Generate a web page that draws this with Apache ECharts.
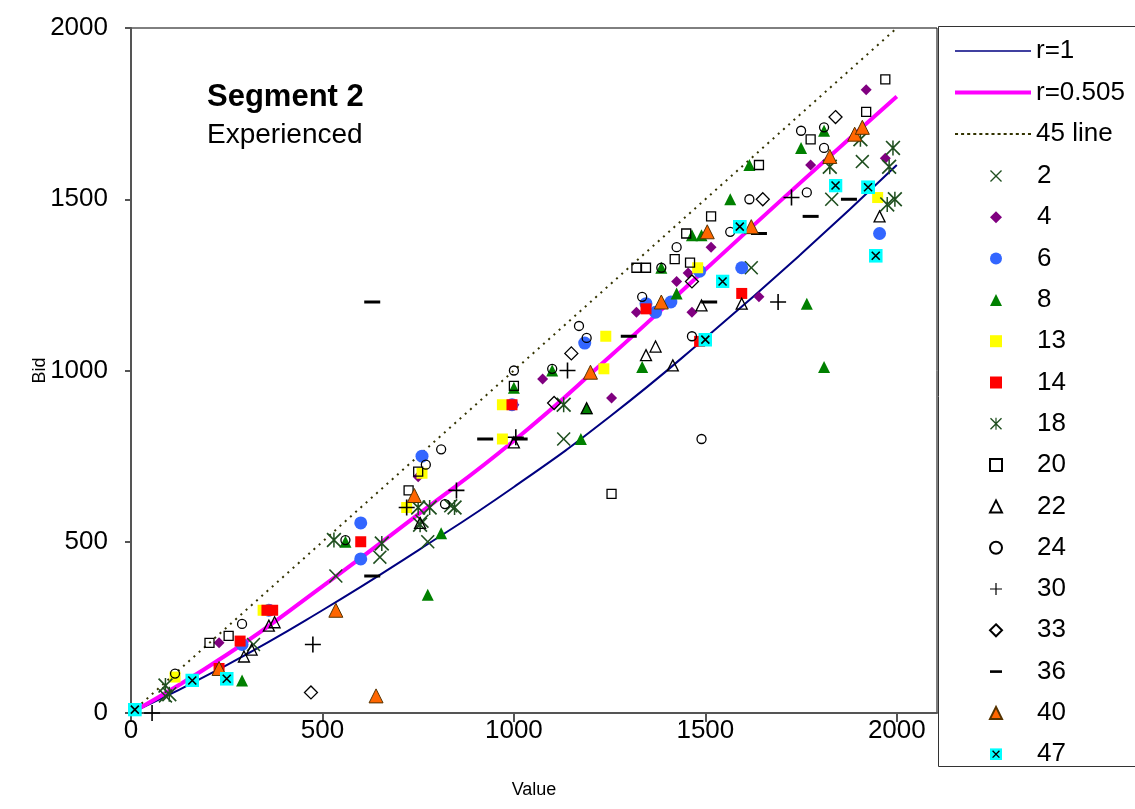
<!DOCTYPE html>
<html>
<head>
<meta charset="utf-8">
<script src="https://cdn.jsdelivr.net/npm/echarts@6/dist/echarts.min.js"></script>
<style>
  html, body { margin: 0; padding: 0; background: #fff; }
  #main { width: 1135px; height: 809px; }
</style>
</head>
<body>
<div id="main"></div>
<script>
// equilibrium bid curves
const curveX = [0, 250, 500, 750, 1000, 1250, 1500, 1750, 2000]
const r1Bid = [0, 140, 300, 475, 660, 865, 1095, 1340, 1600]
const r505Bid = [0, 170, 370, 580, 795, 1040, 1295, 1550, 1800]
const line45 = [[0, 0], [2000, 2000]]

// subjects: [value, bid]
const s2 = [[90, 50], [320, 200], [535, 400], [650, 455], [775, 500], [760, 560], [835, 605], [1130, 800], [1620, 1300], [1830, 1500], [1910, 1610]]
const s4 = [[230, 205], [750, 690], [1000, 900], [1075, 975], [1255, 920], [1320, 1170], [1425, 1260], [1455, 1285], [1465, 1170], [1515, 1360], [1640, 1215], [1775, 1600], [1920, 1820], [1970, 1620]]
const s6 = [[290, 200], [360, 300], [600, 450], [600, 555], [760, 750], [995, 900], [1185, 1080], [1345, 1195], [1370, 1170], [1410, 1200], [1485, 1290], [1595, 1300], [1955, 1400]]
const s8 = [[290, 95], [560, 500], [775, 345], [810, 525], [1000, 950], [1100, 1000], [1175, 800], [1190, 890], [1335, 1010], [1385, 1300], [1425, 1225], [1465, 1395], [1490, 1395], [1565, 1500], [1615, 1600], [1750, 1650], [1765, 1195], [1810, 1010], [1810, 1700]]
const s13 = [[115, 105], [345, 300], [720, 600], [760, 700], [970, 900], [970, 800], [1235, 1005], [1240, 1100], [1480, 1300], [1950, 1505]]
const s14 = [[230, 130], [285, 210], [355, 300], [370, 300], [600, 500], [995, 900], [1345, 1180], [1485, 1085], [1595, 1225]]
const s18 = [[90, 80], [100, 55], [530, 505], [655, 495], [750, 600], [780, 600], [755, 550], [845, 600], [1130, 900], [1825, 1595], [1905, 1675], [1980, 1595], [1990, 1650], [1995, 1500], [1975, 1485]]
const s20 = [[205, 205], [255, 225], [725, 650], [750, 705], [1000, 955], [1255, 640], [1320, 1300], [1345, 1300], [1420, 1325], [1450, 1400], [1460, 1315], [1515, 1450], [1640, 1600], [1775, 1675], [1920, 1755], [1970, 1850]]
const s22 = [[295, 165], [315, 185], [360, 255], [375, 265], [755, 555], [1000, 790], [1190, 890], [1345, 1045], [1370, 1070], [1415, 1015], [1490, 1190], [1595, 1195], [1955, 1450]]
const s24 = [[115, 115], [290, 260], [560, 505], [770, 725], [810, 770], [820, 610], [1000, 1000], [1100, 1005], [1170, 1130], [1190, 1095], [1335, 1215], [1385, 1300], [1425, 1360], [1465, 1100], [1490, 800], [1565, 1405], [1615, 1500], [1750, 1700], [1765, 1520], [1810, 1650], [1810, 1710]]
const s30 = [[55, 0], [475, 200], [720, 600], [850, 650], [1005, 805], [1140, 1000], [1690, 1200], [1725, 1505]]
const s33 = [[470, 60], [1105, 905], [1150, 1050], [1465, 1260], [1650, 1500], [1840, 1740]]
const s36 = [[630, 1200], [630, 400], [925, 800], [1015, 800], [1300, 1100], [1510, 1200], [1640, 1400], [1775, 1450], [1875, 1500]]
const s40 = [[230, 130], [535, 300], [640, 50], [740, 635], [1200, 995], [1385, 1200], [1505, 1405], [1620, 1420], [1825, 1625], [1890, 1690], [1910, 1710]]
const s47 = [[10, 10], [160, 95], [250, 100], [1500, 1090], [1545, 1260], [1590, 1420], [1840, 1540], [1925, 1535], [1945, 1335]]

const xTicks = [0, 500, 1000, 1500, 2000]

// marker shapes
const X_PATH = 'path://M0,0.8L0.8,0L5,4.2L9.2,0L10,0.8L5.8,5L10,9.2L9.2,10L5,5.8L0.8,10L0,9.2L4.2,5Z'
const STAR_PATH = 'path://M0,0.8L0.8,0L5,4.2L9.2,0L10,0.8L5.8,5L10,9.2L9.2,10L5,5.8L0.8,10L0,9.2L4.2,5ZM4.5,0L5.5,0L5.5,10L4.5,10Z'
const PLUS_PATH = 'path://M4.5,0L5.5,0L5.5,4.5L10,4.5L10,5.5L5.5,5.5L5.5,10L4.5,10L4.5,5.5L0,5.5L0,4.5L4.5,4.5Z'
const CYAN_X = 'image://data:image/svg+xml;charset=utf-8,' + encodeURIComponent(
    "<svg xmlns='http://www.w3.org/2000/svg' width='14' height='14'>" +
    "<rect width='14' height='14' fill='#00FFFF'/>" +
    "<path d='M3,3L11,11M11,3L3,11' stroke='#000' stroke-width='1.6'/></svg>")

// legend icons for the three lines (Excel style, no marker) and the dash marker
const THIN_LINE = 'path://M0,0H76V1.6H0Z'
const THICK_LINE = 'path://M0,0H76V4H0Z'
let dashes = ''
for (let i = 0; i < 76; i += 6) dashes += 'M' + i + ',0h3v2h-3z'
const DASH_LINE = 'path://' + dashes
const BAR_ICON = 'path://M0,0H16V3.5H0Z'

const darkGreen = '#1f4f1f'
const hollow = 'rgba(0,0,0,0)'

function pairs(xs, ys) {
    return xs.map((x, i) => [x, ys[i]])
}

function scatter(name, data, symbol, size, itemStyle) {
    return {
        name: name,
        type: 'scatter',
        data: data,
        symbol: symbol,
        symbolSize: size,
        itemStyle: Object.assign({ opacity: 1 }, itemStyle),
        z: 3
    }
}

const scatterNames = ['2', '4', '6', '8', '13', '14', '18', '20', '22', '24', '30', '33', '36', '40', '47']

const option = {
    backgroundColor: '#fff',
    animation: false,
    textStyle: { fontFamily: 'Liberation Sans, Arial, sans-serif' },
    title: {
        text: 'Segment 2',
        subtext: 'Experienced',
        left: 202,
        top: 77,
        itemGap: 8,
        textStyle: { fontSize: 31, fontWeight: 'bold', color: '#000', fontFamily: 'Liberation Sans' },
        subtextStyle: { fontSize: 28, color: '#000', fontFamily: 'Liberation Sans' }
    },
    grid: {
        left: 131,
        top: 28,
        width: 806,
        height: 685,
        show: true,
        borderColor: '#000',
        borderWidth: 1
    },
    xAxis: {
        type: 'value',
        min: 0,
        max: 2105,
        interval: 500,
        name: 'Value',
        nameLocation: 'middle',
        nameGap: 68,
        nameTextStyle: { fontSize: 18, color: '#000' },
        axisLine: { lineStyle: { color: '#555', width: 2 } },
        axisTick: { show: true, length: 9, customValues: xTicks, lineStyle: { color: '#555', width: 2 } },
        axisLabel: { fontSize: 26, color: '#000', margin: 5, customValues: xTicks, formatter: v => String(v) },
        splitLine: { show: false }
    },
    yAxis: {
        type: 'value',
        min: 0,
        max: 2000,
        interval: 500,
        name: 'Bid',
        nameLocation: 'middle',
        nameGap: 82,
        nameRotate: 90,
        nameMoveOverlap: false,
        nameTextStyle: { fontSize: 18, color: '#000' },
        axisLine: { show: true, lineStyle: { color: '#555', width: 2 } },
        axisTick: { show: true, length: 6, lineStyle: { color: '#555', width: 2 } },
        axisLabel: { fontSize: 26, color: '#000', margin: 23, formatter: v => String(v) },
        splitLine: { show: false }
    },
    legend: [
        {
            orient: 'vertical',
            left: 950,
            top: 33,
            z: 6,
            itemWidth: 76,
            itemHeight: 14,
            itemGap: 15.5,
            symbolKeepAspect: true,
            textStyle: { fontSize: 26, color: '#000' },
            data: [
                { name: 'r=1', icon: THIN_LINE },
                { name: 'r=0.505', icon: THICK_LINE },
                { name: '45 line', icon: DASH_LINE }
            ]
        },
        {
            orient: 'vertical',
            left: 984,
            top: 158,
            z: 6,
            itemWidth: 12,
            itemHeight: 12,
            itemGap: 15.3,
            symbolKeepAspect: true,
            textStyle: { fontSize: 26, color: '#000', padding: [0, 0, 0, 30] },
            data: scatterNames.map(n => n === '36' ? { name: n, icon: BAR_ICON } : n)
        }
    ],
    graphic: [
        {
            type: 'rect',
            shape: { x: 938.5, y: 26.5, width: 210, height: 740 },
            style: { fill: '#fff', stroke: '#333', lineWidth: 1 },
            z: 1
        }
    ],
    series: [
        {
            name: 'r=1', type: 'line', data: pairs(curveX, r1Bid), smooth: true,
            symbol: 'none', lineStyle: { color: '#000080', width: 2 }, itemStyle: { color: '#000080' }, z: 2
        },
        {
            name: 'r=0.505', type: 'line', data: pairs(curveX, r505Bid), smooth: true,
            symbol: 'none', lineStyle: { color: '#ff00ff', width: 4 }, itemStyle: { color: '#ff00ff' }, z: 2
        },
        {
            name: '45 line', type: 'line', data: line45,
            symbol: 'none', lineStyle: { color: '#333300', width: 2, type: [2, 5] }, itemStyle: { color: '#333300' }, z: 2
        },
        scatter('2', s2, X_PATH, 14, { color: darkGreen }),
        scatter('4', s4, 'diamond', 11, { color: '#800080' }),
        scatter('6', s6, 'circle', 13, { color: '#3366ff' }),
        scatter('8', s8, 'triangle', 12, { color: '#008000' }),
        scatter('13', s13, 'rect', 11, { color: '#ffff00' }),
        scatter('14', s14, 'rect', 11, { color: '#ff0000' }),
        scatter('18', s18, STAR_PATH, 15, { color: darkGreen }),
        scatter('20', s20, 'rect', 9, { color: hollow, borderColor: '#000', borderWidth: 1.3 }),
        scatter('22', s22, 'triangle', 11, { color: hollow, borderColor: '#000', borderWidth: 1.3 }),
        scatter('24', s24, 'circle', 9, { color: hollow, borderColor: '#000', borderWidth: 1.3 }),
        scatter('30', s30, PLUS_PATH, 16, { color: '#000' }),
        scatter('33', s33, 'diamond', 13, { color: hollow, borderColor: '#000', borderWidth: 1.3 }),
        scatter('36', s36, 'rect', [16, 3], { color: '#000' }),
        scatter('40', s40, 'triangle', 14, { color: '#ff6600', borderColor: '#553300', borderWidth: 1 }),
        scatter('47', s47, CYAN_X, 14, { color: '#00ffff' })
    ]
}

const myChart = echarts.init(document.getElementById('main'), null, { renderer: 'canvas' })
myChart.setOption(option)
</script>
</body>
</html>
